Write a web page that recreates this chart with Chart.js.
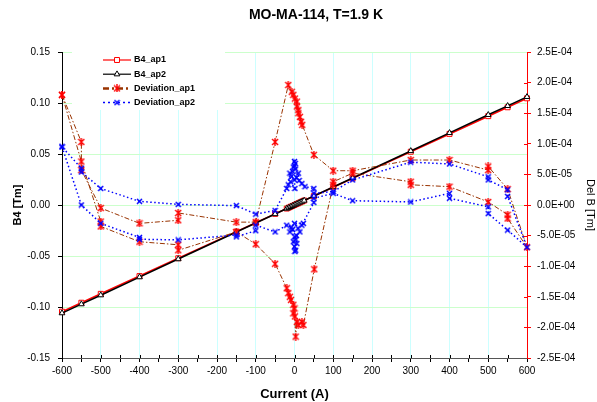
<!DOCTYPE html>
<html>
<head>
<meta charset="utf-8">
<script src="https://cdn.jsdelivr.net/npm/chart.js@4.4.0/dist/chart.umd.min.js"></script>
<style>
  html, body { margin: 0; padding: 0; background: #fff; }
  #wrap { width: 597px; height: 402px; }
</style>
</head>
<body>
<div id="wrap"><canvas id="chartB4" width="597" height="402"></canvas></div>
<script>
// B4 vs current, both apertures (left axis, Tm)
const b4Current = [-600, -550, -500, -400, -300, -150, -100, -50, -20, -15, -10, -5, 0, 5, 10, 15, 20, 25, 50, 100, 150, 300, 400, 500, 550, 600];
const b4Ap1 = [-0.1046, -0.0958, -0.0871, -0.0697, -0.0522, -0.0261, -0.0174, -0.0087, -0.0035, -0.0026, -0.0017, -0.0009, 0.0000, 0.0009, 0.0017, 0.0026, 0.0035, 0.0044, 0.0087, 0.0174, 0.0261, 0.0522, 0.0697, 0.0871, 0.0958, 0.1046];
const b4Ap2 = [-0.1060, -0.0972, -0.0884, -0.0707, -0.0530, -0.0265, -0.0177, -0.0088, -0.0035, -0.0027, -0.0018, -0.0009, 0.0000, 0.0009, 0.0018, 0.0027, 0.0035, 0.0044, 0.0088, 0.0177, 0.0265, 0.0530, 0.0707, 0.0884, 0.0972, 0.1060];

// deviation from linear fit (right axis), in units of 1e-5 Tm
// points in measurement order: ramp up -600 -> 600, then back down to -600
const devAp1Current = [-600, -550, -500, -500, -400, -300, -300, -150, -100, -50, -20, -16, -12, -9, -3, 0, -3, 1, 3, 6, 10, 19, 23, 51, 100, 100, 150, 300, 300, 400, 500, 550, 550, 600,
  550, 500, 500, 400, 300, 150, 100, 50, 20, 17, 14, 10, 10, 6, 6, 1, -3, -7, -16, -50, -100, -150, -300, -300, -400, -500, -550, -550, -600];
const devAp1 = [18.0, 7.1, -2.7, -3.5, -6.0, -6.5, -7.4, -4.4, -6.4, -9.6, -13.6, -14.4, -15.0, -15.5, -16.3, -16.9, -17.7, -18.2, -21.5, -19.1, -19.6, -19.1, -19.6, -10.5, 3.3, 3.8, 5.2, 3.8, 3.3, 3.0, 0.5, -1.6, -2.2, -6.9,
  2.6, 6.3, 5.7, 7.35, 7.35, 5.6, 5.6, 8.2, 13.1, 13.6, 14.4, 15.0, 15.5, 16.1, 16.9, 17.4, 18.0, 18.5, 19.6, 10.3, -2.8, -2.8, -1.3, -2.5, -3.0, -0.5, 5.7, 10.3, 18.0];

const devAp2Current = [-600, -550, -500, -400, -400, -300, -150, -150, -100, -100, -50, -20, -8, -12, -5, -3, 1, 3, 0, 6, 3, 1, 5, 14, 9, 0, 23, 19, 50, 50, 100, 150, 300, 400, 400, 500, 500, 550, 600,
  550, 550, 500, 500, 400, 300, 150, 100, 50, 50, 27, 19, 12, 10, 5, 3, 2, 0, 0, -3, -5, -8, 0, 1, -10, -12, -16, -20, -50, -100, -150, -300, -400, -500, -550, -550, -600];
const devAp2 = [9.5, 0.0, -3.0, -5.3, -5.6, -5.7, -4.9, -5.2, -4.2, -3.3, -4.4, -3.3, -3.6, -4.4, -4.0, -6.0, -7.6, -7.4, -6.8, -6.3, -5.6, -5.2, -5.0, -4.4, -3.8, -3.0, -3.0, -3.3, 0.4, 1.1, 1.9, 0.7, 0.5, 1.9, 1.1, -0.3, -1.4, -4.1, -6.9,
  1.4, 2.5, 4.1, 4.6, 6.7, 7.0, 4.1, 2.2, 1.9, 2.7, 3.0, 3.5, 4.0, 5.2, 4.5, 5.9, 6.8, 7.1, 6.4, 6.2, 5.5, 4.7, 4.1, 2.7, 3.8, 5.2, 3.3, 2.7, -0.9, -1.5, -0.1, 0.1, 0.6, 2.7, 5.4, 6.0, 9.5];

const leftTicks = { min: -0.15, max: 0.15, step: 0.05 };
const rightTicks = { min: -2.5e-4, max: 2.5e-4, step: 5e-5 };
const chartTitle = 'MO-MA-114, T=1.9 K';

const toPoints = (xs, ys, scale = 1) => xs.map((x, i) => ({ x, y: ys[i] * scale }));

// little canvases for the star / cross markers
const makeMarker = (color, size, lw, withBar) => {
  const c = document.createElement('canvas');
  c.width = size;
  c.height = size;
  const g = c.getContext('2d');
  g.strokeStyle = color;
  g.lineWidth = lw;
  g.beginPath();
  g.moveTo(1, 1); g.lineTo(size - 1, size - 1);
  g.moveTo(size - 1, 1); g.lineTo(1, size - 1);
  if (withBar) {
    g.moveTo(size / 2, 0); g.lineTo(size / 2, size);
  }
  g.stroke();
  return c;
};
const redStar = makeMarker('#ff0000', 8, 1.4, true);
const blueCross = makeMarker('#0000ff', 7, 1.5, false);

const fmtExp = (v) => {
  if (Math.abs(v) < 1e-12) return '0.0E+00';
  const [m, e] = v.toExponential(1).split('e');
  const n = parseInt(e, 10);
  return m + 'E' + (n < 0 ? '-' : '+') + String(Math.abs(n)).padStart(2, '0');
};

// title sits a bit right of the canvas centre
const titleText = {
  id: 'titleText',
  afterDraw(chart) {
    const ctx = chart.ctx;
    ctx.save();
    ctx.fillStyle = '#000';
    ctx.font = 'bold 14px "Liberation Sans", Arial, sans-serif';
    ctx.textAlign = 'center';
    ctx.textBaseline = 'middle';
    ctx.fillText(chartTitle, 316, 15);
    ctx.restore();
  }
};

// legend drawn inside the plot, top left
const legendBox = {
  id: 'legendBox',
  afterDraw(chart) {
    const ctx = chart.ctx;
    ctx.save();
    ctx.fillStyle = '#fff';
    ctx.fillRect(72, 45, 153, 65);
    chart.data.datasets.forEach((ds, i) => {
      const y = 60 + i * 14.2;
      ctx.strokeStyle = ds.borderColor;
      ctx.lineWidth = ds.legendWidth;
      ctx.setLineDash(ds.legendDash || []);
      ctx.beginPath();
      ctx.moveTo(103, y);
      ctx.lineTo(131, y);
      ctx.stroke();
      ctx.setLineDash([]);
      const st = ds.pointStyle;
      if (st instanceof HTMLCanvasElement) {
        ctx.drawImage(st, 117 - st.width / 2, y - st.height / 2);
      } else {
        ctx.fillStyle = '#fff';
        ctx.strokeStyle = ds.borderColor;
        ctx.lineWidth = 1;
        Chart.helpers.drawPoint(ctx, { pointStyle: st, radius: ds.pointRadius, borderWidth: 1, rotation: 0 }, 117, y);
      }
      ctx.fillStyle = '#000';
      ctx.font = 'bold 9px "Liberation Sans", Arial, sans-serif';
      ctx.textBaseline = 'middle';
      ctx.textAlign = 'left';
      ctx.fillText(ds.label, 134, y);
    });
    ctx.restore();
  }
};

// short tick marks on the inner side of the bottom and right axes
const innerTicks = {
  id: 'innerTicks',
  afterDatasetsDraw(chart) {
    const { ctx, chartArea } = chart;
    const x = chart.scales.x;
    const y1 = chart.scales.y1;
    ctx.save();
    ctx.lineWidth = 1;
    ctx.strokeStyle = '#000';
    ctx.beginPath();
    for (let v = -550; v <= 550; v += 50) {
      const px = Math.round(x.getPixelForValue(v)) + 0.5;
      ctx.moveTo(px, chartArea.bottom);
      ctx.lineTo(px, chartArea.bottom - 3);
    }
    ctx.stroke();
    ctx.strokeStyle = '#ff0000';
    ctx.beginPath();
    for (let k = 1; k < 10; k++) {
      const py = Math.round(y1.getPixelForValue(rightTicks.min + k * rightTicks.step)) + 0.5;
      ctx.moveTo(chartArea.right, py);
      ctx.lineTo(chartArea.right - 3, py);
    }
    ctx.stroke();
    ctx.restore();
  }
};

Chart.defaults.font.family = '"Liberation Sans", Arial, sans-serif';
Chart.defaults.font.size = 10;
Chart.defaults.color = '#000';

new Chart(document.getElementById('chartB4'), {
  type: 'line',
  data: {
    datasets: [
      {
        label: 'B4_ap1',
        data: toPoints(b4Current, b4Ap1),
        yAxisID: 'y',
        borderColor: '#ff0000',
        backgroundColor: '#ffffff',
        borderWidth: 1.6,
        pointStyle: 'rect',
        pointRadius: 3.5,
        pointBorderWidth: 1,
        pointBackgroundColor: '#ffffff',
        legendWidth: 1.2,
        order: 4
      },
      {
        label: 'B4_ap2',
        data: toPoints(b4Current, b4Ap2),
        yAxisID: 'y',
        borderColor: '#000000',
        backgroundColor: '#ffffff',
        borderWidth: 1.6,
        pointStyle: 'triangle',
        pointRadius: 3.3,
        pointBorderWidth: 1,
        pointBackgroundColor: '#ffffff',
        legendWidth: 1.2,
        order: 3
      },
      {
        label: 'Deviation_ap1',
        data: toPoints(devAp1Current, devAp1, 1e-5),
        yAxisID: 'y1',
        borderColor: '#993300',
        borderWidth: 1,
        borderDash: [5, 2, 1.5, 2],
        pointStyle: redStar,
        legendWidth: 2.5,
        legendDash: [6, 3, 2, 3],
        order: 2
      },
      {
        label: 'Deviation_ap2',
        data: toPoints(devAp2Current, devAp2, 1e-5),
        yAxisID: 'y1',
        borderColor: '#0000ff',
        borderWidth: 1.5,
        borderDash: [1.5, 2.5],
        pointStyle: blueCross,
        legendWidth: 1.5,
        legendDash: [2, 3],
        order: 1
      }
    ]
  },
  options: {
    responsive: false,
    animation: false,
    devicePixelRatio: 1,
    layout: { padding: { top: 52 } },
    datasets: {
      line: { tension: 0, fill: false, clip: false, pointHoverRadius: 4 }
    },
    plugins: {
      legend: { display: false },
      tooltip: { enabled: false },
      title: { display: false }
    },
    scales: {
      x: {
        type: 'linear',
        min: -600,
        max: 600,
        afterFit: (s) => { s.height = 44; },
        ticks: {
          stepSize: 50,
          autoSkip: false,
          maxRotation: 0,
          padding: 3,
          callback: (v) => (v % 100 === 0 ? String(v) : '')
        },
        grid: {
          color: (ctx) => (ctx.tick && ctx.tick.value % 100 === 0 ? '#ccffff' : 'rgba(0,0,0,0)'),
          tickColor: '#000',
          tickLength: 4
        },
        border: { color: '#555', width: 1 },
        title: {
          display: true,
          text: 'Current (A)',
          font: { size: 13, weight: 'bold' },
          padding: { top: 0, bottom: 0 }
        }
      },
      y: {
        position: 'left',
        min: leftTicks.min,
        max: leftTicks.max,
        afterFit: (s) => { s.width = 62; },
        ticks: {
          stepSize: leftTicks.step,
          padding: 8,
          callback: (v) => (Math.abs(v) < 1e-9 ? '0.00' : v.toFixed(2))
        },
        grid: { color: '#ccffcc', tickColor: '#000', tickLength: 4 },
        border: { color: '#000', width: 1 },
        title: {
          display: true,
          text: 'B4 [Tm]',
          font: { size: 11, weight: 'bold' },
          padding: { top: 11.4, bottom: 0 }
        }
      },
      y1: {
        position: 'right',
        min: rightTicks.min,
        max: rightTicks.max,
        afterFit: (s) => { s.width = 70; },
        ticks: {
          stepSize: rightTicks.step,
          padding: 6,
          callback: (v) => fmtExp(v)
        },
        grid: { drawOnChartArea: false, tickColor: '#ff0000', tickLength: 4 },
        border: { color: '#ff0000', width: 1 },
        title: {
          display: true,
          text: 'Del B [Tm]',
          font: { size: 11 },
          padding: { top: 0.5, bottom: 0 }
        }
      }
    }
  },
  plugins: [innerTicks, legendBox, titleText]
});
</script>
</body>
</html>
